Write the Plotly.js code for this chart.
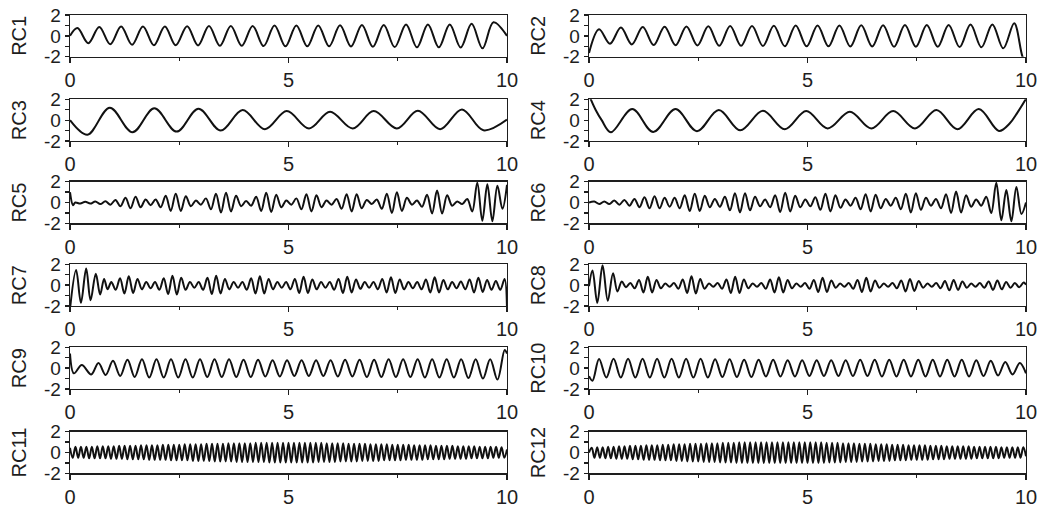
<!DOCTYPE html>
<html><head><meta charset="utf-8">
<script src="https://cdn.plot.ly/plotly-3.0.1.min.js"></script>
<style>html,body{margin:0;padding:0;background:#fff}#chart{width:1041px;height:507px}</style>
</head><body><div id="chart"></div>
<script>
const rcNames = ["RC1","RC2","RC3","RC4","RC5","RC6","RC7","RC8","RC9","RC10","RC11","RC12"];
const xTickVals = [0,5,10];
const xTickText = ["0","5","10"];
const xMinorVals = [2.5,7.5];
const yTickVals = [-2,0,2];
const yTickText = ["-2","0","2"];
const yMinorVals = [-1,1];

const rc1_t = [0,0.17,0.42,0.67,0.92,1.17,1.42,1.67,1.92,2.17,2.42,2.68,2.93,3.18,3.43,3.68,3.93,4.18,4.43,4.68,4.93,5.18,5.43,5.68,5.93,6.18,6.43,6.68,6.93,7.18,7.43,7.69,7.94,8.19,8.44,8.69,8.94,9.19,9.44,9.69,10];
const rc1_v = [0,0.75,-0.7,0.85,-0.8,0.9,-0.85,0.9,-0.9,0.9,-0.9,0.92,-0.92,0.95,-0.95,0.95,-0.95,0.95,-0.98,1.0,-1.0,1.0,-1.0,1.0,-1.0,1.02,-1.02,1.05,-1.05,1.05,-1.08,1.1,-1.1,1.1,-1.1,1.1,-1.12,1.15,-1.2,1.3,0];

const rc2_t = [0,0.23,0.48,0.73,0.98,1.23,1.48,1.73,1.98,2.23,2.48,2.73,2.98,3.23,3.48,3.73,3.98,4.23,4.48,4.73,4.98,5.23,5.48,5.73,5.98,6.23,6.48,6.73,6.98,7.23,7.48,7.73,7.98,8.23,8.48,8.73,8.98,9.23,9.48,9.73,9.92,10];
const rc2_v = [-1.65,0.63,-0.75,0.8,-0.82,0.85,-0.88,0.88,-0.9,0.9,-0.92,0.92,-0.95,0.95,-0.95,0.95,-0.97,0.97,-1.0,1.0,-1.0,1.0,-1.0,1.0,-1.02,1.02,-1.02,1.02,-1.05,1.05,-1.05,1.05,-1.05,1.05,-1.08,1.08,-1.1,1.1,-1.2,1.2,-2.0,-2.6];

const rc3_t = [0,0.4,0.91,1.43,1.93,2.44,2.94,3.45,3.95,4.46,4.96,5.47,5.95,6.47,6.95,7.48,7.96,8.47,8.97,9.46,10];
const rc3_v = [0,-1.39,1.19,-1.16,1.13,-1.1,1.1,-1.0,0.97,-0.87,0.87,-0.8,0.8,-0.8,0.87,-0.8,0.9,-0.87,1.03,-0.97,0.05];

const rc4_t = [0,0.15,0.29,0.5,0.99,1.47,1.98,2.47,2.97,3.46,3.98,4.48,4.97,5.46,5.97,6.46,6.96,7.46,7.95,8.43,8.92,9.38,9.63,9.8,10];
const rc4_v = [2.4,1.0,0,-1.16,1.06,-1.13,1.06,-1.06,0.97,-0.97,0.9,-0.87,0.87,-0.8,0.8,-0.8,0.87,-0.8,0.97,-0.87,1.06,-1.03,-0.3,0.7,2.05];

// extremum times shared by RC5 / RC6
const rc56_grid = [0.235,0.35,0.465,0.58,0.695,0.81,0.925,1.04,1.155,1.27,
  1.385,1.5,1.615,1.73,1.845,1.96,2.075,2.19,2.305,2.42,
  2.535,2.65,2.765,2.88,2.995,3.11,3.225,3.34,3.455,3.57,
  3.685,3.8,3.915,4.03,4.145,4.26,4.375,4.49,4.605,4.72,
  4.835,4.95,5.065,5.18,5.295,5.41,5.525,5.64,5.755,5.87,
  5.985,6.1,6.215,6.33,6.445,6.56,6.675,6.79,6.905,7.02,
  7.135,7.25,7.365,7.48,7.595,7.71,7.825,7.94,8.055,8.17,
  8.285,8.4,8.515,8.63,8.745,8.86,8.975,9.09,9.205,9.32,
  9.435,9.55,9.665,9.78,9.895];
const rc5_t = [0,0.07,0.12].concat(rc56_grid,[10]);
const rc5_v = [1.0,-0.25,0.0,
  -0.1,0.08,-0.1,0.1,-0.15,0.12,-0.2,0.25,-0.35,0.45,
  -0.55,0.55,-0.45,0.3,-0.25,0.3,-0.45,0.65,-0.8,0.85,
  -0.8,0.6,-0.35,0.2,-0.2,0.4,-0.65,0.85,-0.95,0.95,
  -0.85,0.65,-0.35,0.15,-0.3,0.55,-0.8,0.95,-0.9,0.75,
  -0.45,0.2,-0.2,0.4,-0.65,0.8,-0.85,0.7,-0.45,0.2,
  -0.2,0.35,-0.6,0.8,-0.85,0.8,-0.55,0.25,-0.15,0.3,
  -0.6,0.85,-1.0,1.0,-0.8,0.45,-0.2,0.2,-0.4,0.75,
  -1.05,1.15,-1.05,0.7,-0.3,0.1,-0.15,0.35,-0.85,1.9,
  -1.75,1.75,-1.8,1.6,-0.6,
  1.7];
const rc6_t = [0,0.12].concat(rc56_grid,[10]);
const rc6_v = [0.0,0.1,
  -0.15,0.1,-0.15,0.2,-0.2,0.25,-0.3,0.35,-0.45,0.5,
  -0.55,0.6,-0.55,0.45,-0.4,0.45,-0.55,0.7,-0.8,0.85,
  -0.8,0.65,-0.45,0.35,-0.4,0.55,-0.75,0.9,-0.95,0.9,
  -0.75,0.55,-0.35,0.3,-0.45,0.7,-0.9,0.95,-0.85,0.65,
  -0.45,0.3,-0.35,0.5,-0.7,0.85,-0.85,0.7,-0.5,0.3,
  -0.3,0.45,-0.65,0.8,-0.85,0.75,-0.55,0.35,-0.3,0.45,
  -0.65,0.85,-0.95,0.9,-0.7,0.45,-0.3,0.35,-0.55,0.8,
  -1.0,1.05,-0.95,0.7,-0.4,0.3,-0.3,0.55,-1.0,1.9,
  -1.7,1.2,-1.8,1.5,-1.1,
  0.0];

// extremum times shared by RC7 / RC8
const rc78_grid = [0.945,1.045,1.145,1.245,1.345,1.445,1.545,1.645,1.745,1.845,
  1.945,2.045,2.145,2.245,2.345,2.445,2.545,2.645,2.745,2.845,
  2.945,3.045,3.145,3.245,3.345,3.445,3.545,3.645,3.745,3.845,
  3.945,4.045,4.145,4.245,4.345,4.445,4.545,4.645,4.745,4.845,
  4.945,5.045,5.145,5.245,5.345,5.445,5.545,5.645,5.745,5.845,
  5.945,6.045,6.145,6.245,6.345,6.445,6.545,6.645,6.745,6.845,
  6.945,7.045,7.145,7.245,7.345,7.445,7.545,7.645,7.745,7.845,
  7.945,8.045,8.145,8.245,8.345,8.445,8.545,8.645,8.745,8.845,
  8.945,9.045,9.145,9.245,9.345,9.445,9.545,9.645,9.745,9.845,
  9.945];
const rc7_t = [0,0.14,0.25,0.37,0.47,0.59,0.69,0.78,0.86].concat(rc78_grid,[10]);
const rc7_v = [-2.3,1.45,-1.7,1.6,-1.45,1.1,-0.9,0.6,-0.4,
  0.3,-0.45,0.65,-0.8,0.85,-0.75,0.6,-0.4,0.3,-0.3,
  0.3,-0.45,0.65,-0.85,0.9,-0.9,0.7,-0.45,0.3,-0.25,
  0.3,-0.45,0.7,-0.85,0.9,-0.8,0.6,-0.4,0.3,-0.25,
  0.3,-0.45,0.65,-0.8,0.85,-0.8,0.6,-0.4,0.3,-0.25,
  0.3,-0.4,0.6,-0.75,0.8,-0.75,0.55,-0.4,0.3,-0.25,
  0.3,-0.45,0.6,-0.75,0.8,-0.7,0.55,-0.35,0.3,-0.25,
  0.3,-0.4,0.6,-0.7,0.75,-0.75,0.55,-0.4,0.3,-0.3,
  0.3,-0.4,0.55,-0.7,0.75,-0.7,0.5,-0.4,0.3,-0.3,
  0.35,-0.4,0.55,-0.7,0.7,-0.65,0.5,-0.45,0.4,-0.45,
  0.6,
  -2.3];
const rc8_t = [0,0.08,0.19,0.31,0.43,0.55,0.65,0.75,0.845].concat(rc78_grid,[10]);
const rc8_v = [-0.1,1.4,-1.7,1.9,-1.5,1.15,-0.6,0.35,-0.2,
  0.2,-0.3,0.5,-0.7,0.8,-0.7,0.5,-0.3,0.15,-0.15,
  0.2,-0.35,0.55,-0.75,0.85,-0.8,0.6,-0.35,0.15,-0.15,
  0.2,-0.35,0.55,-0.75,0.8,-0.75,0.55,-0.3,0.15,-0.15,
  0.2,-0.35,0.55,-0.7,0.75,-0.7,0.5,-0.3,0.15,-0.15,
  0.2,-0.35,0.5,-0.65,0.7,-0.65,0.45,-0.25,0.15,-0.15,
  0.2,-0.35,0.5,-0.65,0.7,-0.6,0.45,-0.25,0.15,-0.15,
  0.2,-0.3,0.45,-0.6,0.6,-0.55,0.4,-0.25,0.15,-0.15,
  0.2,-0.3,0.4,-0.5,0.5,-0.45,0.35,-0.25,0.15,-0.15,
  0.2,-0.25,0.35,-0.45,0.45,-0.4,0.3,-0.25,0.2,-0.2,
  0.25,
  0.05];

const rc9_grid = [0.485,0.651,0.817,0.983,1.149,1.315,1.481,1.647,1.813,1.979,
  2.145,2.311,2.477,2.643,2.809,2.975,3.141,3.307,3.473,3.639,
  3.805,3.971,4.137,4.303,4.469,4.635,4.801,4.967,5.133,5.299,
  5.465,5.631,5.797,5.963,6.129,6.295,6.461,6.627,6.793,6.959,
  7.125,7.291,7.457,7.623,7.789,7.955,8.121,8.287,8.453,8.619,
  8.785,8.951,9.117,9.283,9.449,9.615,9.781,9.947];
const rc9_t = [0,0.09,0.27].concat(rc9_grid,[10]);
const rc9_v = [1.4,-0.5,0.3,
  -0.6,0.5,-0.65,0.7,-0.75,0.8,-0.85,0.85,-0.9,0.85,
  -0.9,0.85,-0.9,0.85,-0.9,0.85,-0.85,0.85,-0.85,0.85,
  -0.85,0.8,-0.85,0.8,-0.8,0.75,-0.8,0.75,-0.75,0.75,
  -0.75,0.75,-0.75,0.75,-0.8,0.8,-0.8,0.8,-0.85,0.8,
  -0.85,0.85,-0.85,0.85,-0.85,0.85,-0.9,0.85,-0.9,0.85,
  -0.9,0.85,-0.95,0.85,-1.0,0.85,-1.1,1.75,
  1.4];

const rc10_grid = [0.23,0.396,0.562,0.728,0.894,1.06,1.226,1.392,1.558,1.724,
  1.89,2.056,2.222,2.388,2.554,2.72,2.886,3.052,3.218,3.384,
  3.55,3.716,3.882,4.048,4.214,4.38,4.546,4.712,4.878,5.044,
  5.21,5.376,5.542,5.708,5.874,6.04,6.206,6.372,6.538,6.704,
  6.87,7.036,7.202,7.368,7.534,7.7,7.866,8.032,8.198,8.364,
  8.53,8.696,8.862,9.028,9.194,9.36,9.526,9.692,9.858];
const rc10_t = [0,0.08].concat(rc10_grid,[10]);
const rc10_v = [-0.77,-1.2,
  0.87,-0.9,0.9,-0.9,0.9,-0.9,0.9,-0.9,0.9,-0.9,
  0.9,-0.9,0.9,-0.9,0.9,-0.9,0.85,-0.85,0.85,-0.85,
  0.8,-0.85,0.8,-0.8,0.8,-0.8,0.75,-0.8,0.75,-0.75,
  0.75,-0.75,0.75,-0.75,0.75,-0.75,0.8,-0.75,0.8,-0.8,
  0.8,-0.8,0.8,-0.8,0.8,-0.8,0.8,-0.8,0.8,-0.8,
  0.8,-0.8,0.75,-0.75,0.7,-0.7,0.6,-0.6,0.5,
  -0.5];

// extremum times shared by RC11 / RC12
const hf_t = [0,
  0.0625,0.125,0.1875,0.25,0.3125,0.375,0.4375,0.5,
  0.5625,0.625,0.6875,0.75,0.8125,0.875,0.9375,1,
  1.0625,1.125,1.1875,1.25,1.3125,1.375,1.4375,1.5,
  1.5625,1.625,1.6875,1.75,1.8125,1.875,1.9375,2,
  2.0625,2.125,2.1875,2.25,2.3125,2.375,2.4375,2.5,
  2.5625,2.625,2.6875,2.75,2.8125,2.875,2.9375,3,
  3.0625,3.125,3.1875,3.25,3.3125,3.375,3.4375,3.5,
  3.5625,3.625,3.6875,3.75,3.8125,3.875,3.9375,4,
  4.0625,4.125,4.1875,4.25,4.3125,4.375,4.4375,4.5,
  4.5625,4.625,4.6875,4.75,4.8125,4.875,4.9375,5,
  5.0625,5.125,5.1875,5.25,5.3125,5.375,5.4375,5.5,
  5.5625,5.625,5.6875,5.75,5.8125,5.875,5.9375,6,
  6.0625,6.125,6.1875,6.25,6.3125,6.375,6.4375,6.5,
  6.5625,6.625,6.6875,6.75,6.8125,6.875,6.9375,7,
  7.0625,7.125,7.1875,7.25,7.3125,7.375,7.4375,7.5,
  7.5625,7.625,7.6875,7.75,7.8125,7.875,7.9375,8,
  8.0625,8.125,8.1875,8.25,8.3125,8.375,8.4375,8.5,
  8.5625,8.625,8.6875,8.75,8.8125,8.875,8.9375,9,
  9.0625,9.125,9.1875,9.25,9.3125,9.375,9.4375,9.5,
  9.5625,9.625,9.6875,9.75,9.8125,9.875,9.9375,10];
const rc11_v = [0.45,
  -0.5,0.55,-0.5,0.55,-0.5,0.55,-0.55,0.55,
  -0.55,0.6,-0.55,0.6,-0.55,0.6,-0.6,0.6,
  -0.6,0.65,-0.6,0.65,-0.65,0.65,-0.65,0.65,
  -0.65,0.7,-0.65,0.7,-0.7,0.7,-0.7,0.7,
  -0.7,0.75,-0.7,0.75,-0.75,0.75,-0.75,0.75,
  -0.75,0.8,-0.75,0.8,-0.8,0.8,-0.8,0.8,
  -0.8,0.85,-0.8,0.85,-0.85,0.85,-0.85,0.85,
  -0.85,0.9,-0.85,0.9,-0.9,0.9,-0.9,0.9,
  -0.9,0.9,-0.9,0.95,-0.9,0.95,-0.9,0.95,
  -0.95,0.95,-0.95,0.95,-0.95,0.95,-0.95,0.95,
  -0.95,0.95,-0.95,0.95,-0.95,0.95,-0.95,0.95,
  -0.95,0.95,-0.9,0.95,-0.9,0.9,-0.9,0.9,
  -0.9,0.9,-0.85,0.9,-0.85,0.85,-0.85,0.85,
  -0.85,0.85,-0.8,0.85,-0.8,0.8,-0.8,0.8,
  -0.8,0.8,-0.75,0.8,-0.75,0.75,-0.75,0.75,
  -0.75,0.75,-0.7,0.75,-0.7,0.7,-0.7,0.7,
  -0.7,0.7,-0.65,0.7,-0.65,0.65,-0.65,0.65,
  -0.65,0.65,-0.6,0.65,-0.6,0.6,-0.6,0.6,
  -0.6,0.6,-0.55,0.6,-0.55,0.55,-0.55,0.55,
  -0.55,0.55,-0.5,0.55,-0.5,0.5,-0.5,0.3];
const rc12_v = [0.0,
  0.45,-0.5,0.5,-0.5,0.5,-0.55,0.55,-0.55,
  0.55,-0.6,0.6,-0.6,0.6,-0.6,0.65,-0.65,
  0.65,-0.65,0.65,-0.7,0.7,-0.7,0.7,-0.7,
  0.7,-0.75,0.75,-0.75,0.75,-0.75,0.8,-0.8,
  0.8,-0.8,0.8,-0.85,0.85,-0.85,0.85,-0.85,
  0.85,-0.9,0.9,-0.9,0.9,-0.9,0.9,-0.95,
  0.95,-0.95,0.95,-0.95,0.95,-1.0,1.0,-1.0,
  1.0,-1.0,1.0,-1.0,1.0,-1.0,1.0,-1.0,
  1.0,-1.0,1.0,-1.0,1.0,-1.0,1.0,-1.0,
  1.0,-1.0,1.0,-1.0,1.0,-1.0,1.0,-1.0,
  1.0,-1.0,1.0,-1.0,1.0,-1.0,0.95,-0.95,
  0.95,-0.95,0.95,-0.95,0.9,-0.9,0.9,-0.9,
  0.9,-0.9,0.85,-0.85,0.85,-0.85,0.85,-0.85,
  0.8,-0.8,0.8,-0.8,0.8,-0.8,0.75,-0.75,
  0.75,-0.75,0.75,-0.75,0.7,-0.7,0.7,-0.7,
  0.7,-0.7,0.7,-0.7,0.65,-0.65,0.65,-0.65,
  0.65,-0.65,0.6,-0.6,0.6,-0.6,0.6,-0.6,
  0.6,-0.6,0.6,-0.6,0.55,-0.55,0.55,-0.55,
  0.55,-0.55,0.55,-0.55,0.55,-0.55,0.5,-0.5,
  0.5,-0.5,0.5,-0.5,0.5,-0.5,0.5,-0.35];

const seriesT = [rc1_t,rc2_t,rc3_t,rc4_t,rc5_t,rc6_t,rc7_t,rc8_t,rc9_t,rc10_t,hf_t,hf_t];
const seriesV = [rc1_v,rc2_v,rc3_v,rc4_v,rc5_v,rc6_v,rc7_v,rc8_v,rc9_v,rc10_v,rc11_v,rc12_v];

const W = 1041, H = 507;
const colLeft = [70, 589], colWidth = 437;
const rowTops = [15, 99.3, 181.7, 264.3, 347.3, 431.7], rowH = 41.7;
const FONT = "Liberation Sans, Arial, sans-serif";
const INK = "#1e1e1e";

const data = [];
const layout = {
  width: W, height: H, margin: {l:0,r:0,t:0,b:0},
  paper_bgcolor: "#fff", plot_bgcolor: "#fff", showlegend: false,
  font: {family: FONT, color: INK, size: 16}
};
for (let i = 0; i < 12; i++) {
  const n = i + 1, row = Math.floor(i / 2), col = i % 2;
  data.push({
    type: "scatter", mode: "lines", x: seriesT[i], y: seriesV[i],
    xaxis: "x" + n, yaxis: "y" + n, name: rcNames[i],
    line: {color: "#111", width: 2, shape: "spline", smoothing: 1}
  });
  const x0 = colLeft[col] / W, x1 = (colLeft[col] + colWidth) / W;
  const yTop = 1 - rowTops[row] / H, yBot = 1 - (rowTops[row] + rowH) / H;
  layout["xaxis" + n] = {
    domain: [x0, x1], anchor: "y" + n, range: [0, 10], fixedrange: true,
    tickmode: "array", tickvals: xTickVals, ticktext: xTickText,
    ticks: "outside", ticklen: 5, tickwidth: 1.3, tickcolor: INK,
    minor: {tickvals: xMinorVals, ticks: "outside", ticklen: 3, tickwidth: 1.3, tickcolor: INK},
    showline: true, mirror: true, linecolor: INK, linewidth: 1.3,
    showgrid: false, zeroline: false, tickfont: {size: 20, family: FONT, color: INK}
  };
  layout["yaxis" + n] = {
    domain: [yBot, yTop], anchor: "x" + n, range: [-2, 2], fixedrange: true,
    tickmode: "array", tickvals: yTickVals, ticktext: yTickText,
    ticks: "outside", ticklen: 4, tickwidth: 1.3, tickcolor: INK,
    minor: {tickvals: yMinorVals, ticks: "outside", ticklen: 4, tickwidth: 1.3, tickcolor: INK},
    showline: true, mirror: true, linecolor: INK, linewidth: 1.3,
    showgrid: false, zeroline: false, tickfont: {size: 19, family: FONT, color: INK},
    title: {text: rcNames[i], font: {size: 20, family: FONT, color: INK}, standoff: 12}
  };
}
Plotly.newPlot("chart", data, layout, {staticPlot: true, displayModeBar: false});
</script></body></html>
